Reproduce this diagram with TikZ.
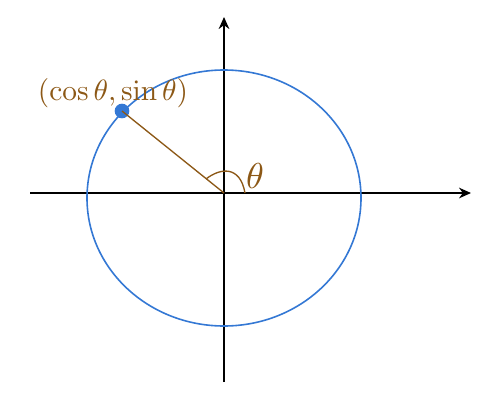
\documentclass[tikz,border=0pt]{standalone}
\usepackage{amsmath,amsfonts}
\usetikzlibrary{arrows.meta}
\usetikzlibrary{positioning}
\definecolor{penbrown}{RGB}{140,88,22}
\definecolor{penblue}{RGB}{52,120,212}
\tikzstyle{axis} = [draw, black, line width=1.2pt, -{Stealth[length=9pt,width=8pt]}]
\tikzstyle{ray} = [draw, penbrown, line width=1pt]
\tikzstyle{handlabel} = [text=penbrown, inner sep=0pt]

\begin{document}
\begin{tikzpicture}[x=0.75pt, y=-0.75pt]
   \useasboundingbox (0,0) rectangle (493,404);
   % Place nodes
   \coordinate (o) at (224,193);
   \coordinate (xl) at (30,193);
   \coordinate (xr) at (471,193);
   \coordinate (yb) at (224,382);
   \coordinate (yt) at (224,17);
   \draw[axis] (xl) -- (xr);
   \draw[axis] (yb) -- (yt);
   \draw[penblue, line width=1.2pt] (224,198) ellipse [x radius=137, y radius=128];
   \node [circle, fill=penblue, inner sep=0pt, minimum size=11pt] (p) at (122,111) {};
   \node [handlabel, scale=2.2] (lbl) at (113,93) {$(\cos\theta,\sin\theta)$};
   \draw[ray] (p.center) -- (o);
   \draw[ray] (206,179) .. controls (220,168) and (240,165) .. (245,193);
   \node [handlabel, scale=2.7] (th) at (255,176) {$\theta$};
\end{tikzpicture}
\end{document}
